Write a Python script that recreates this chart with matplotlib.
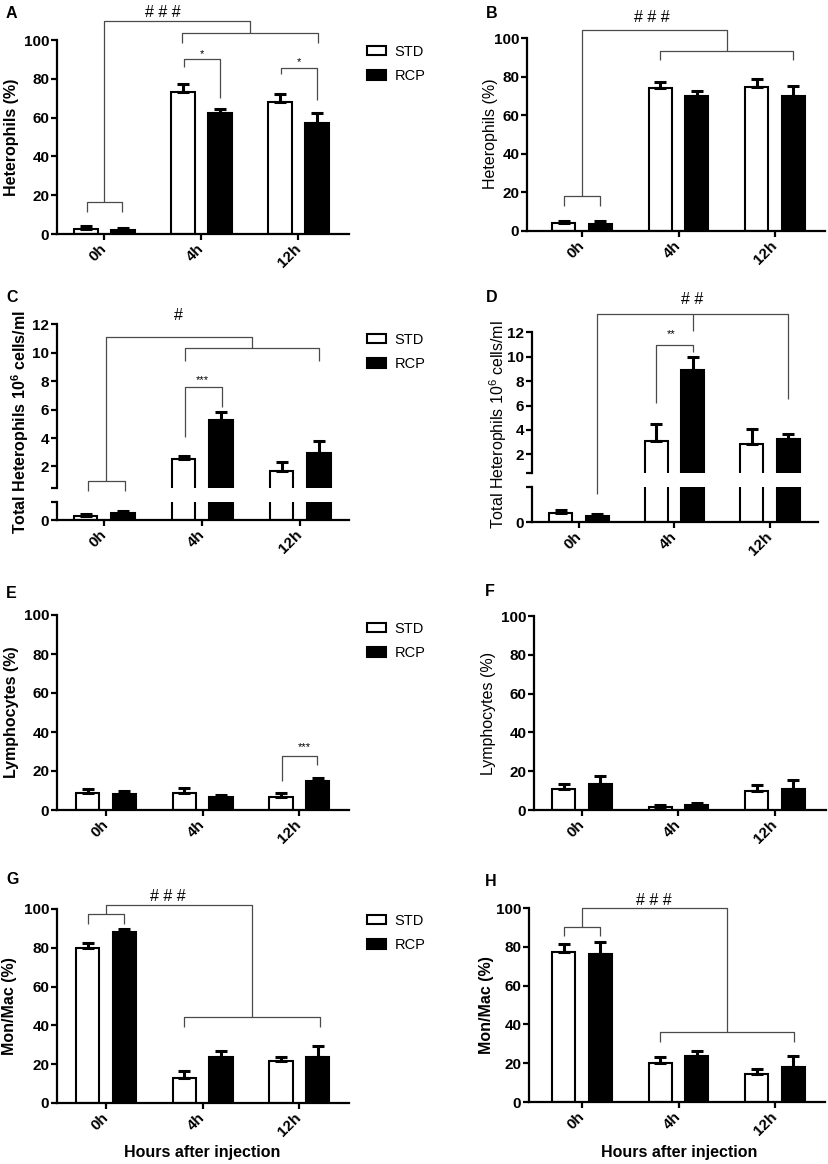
"""
Leukocyte counts after injection, STD vs RCP groups (panels A-H)
"""

import matplotlib

matplotlib.use("Agg")  # Non-interactive backend
import matplotlib.pyplot as plt
import numpy as np

plt.rcParams["font.family"] = ["Liberation Sans", "DejaVu Sans"]
plt.rcParams["mathtext.fontset"] = "custom"
plt.rcParams["mathtext.rm"] = "Liberation Sans"
plt.rcParams["mathtext.bf"] = "Liberation Sans:bold"

# ============================================
# Data (means and upper SEM)
# ============================================
times = ["0h", "4h", "12h"]
groups = ["STD", "RCP"]

a_std, a_std_err = [2.8, 73.2, 68.0], [1.2, 4.0, 4.2]
a_rcp, a_rcp_err = [2.0, 62.2, 57.0], [1.0, 2.2, 5.4]

b_std, b_std_err = [4.1, 74.3, 74.5], [1.2, 3.1, 4.1]
b_rcp, b_rcp_err = [3.8, 69.8, 70.1], [1.4, 2.9, 5.2]

c_std, c_std_err = [0.23, 2.54, 1.65], [0.11, 0.23, 0.65]
c_rcp, c_rcp_err = [0.38, 5.29, 2.98], [0.15, 0.51, 0.79]

d_std, d_std_err = [0.5, 3.09, 2.82], [0.19, 1.37, 1.25]
d_rcp, d_rcp_err = [0.33, 8.89, 3.28], [0.11, 1.09, 0.41]

e_std, e_std_err = [8.9, 8.9, 6.5], [1.7, 2.4, 2.4]
e_rcp, e_rcp_err = [8.2, 6.7, 15.0], [1.4, 1.0, 1.2]

f_std, f_std_err = [10.7, 1.7, 9.9], [2.7, 0.7, 3.2]
f_rcp, f_rcp_err = [13.2, 2.6, 10.7], [4.3, 1.2, 4.6]

g_std, g_std_err = [80.1, 13.1, 21.9], [2.6, 3.4, 2.0]
g_rcp, g_rcp_err = [88.0, 23.9, 23.6], [1.6, 2.7, 6.0]

h_std, h_std_err = [77.5, 20.3, 14.3], [3.9, 3.1, 2.7]
h_rcp, h_rcp_err = [76.3, 23.9, 18.2], [6.3, 2.6, 5.7]

# ============================================
# Layout helpers (pixel geometry of the original figure)
# ============================================
W, H = 829, 1164
fig = plt.figure(figsize=(W / 100, H / 100), dpi=100)

OFF = 0.19
BAR_W = 0.24
LINE = dict(color="#4a4a4a", lw=0.9, clip_on=False, solid_capstyle="butt")
TICK_FONT = dict(fontsize=11, fontweight="bold")


def px_axes(l, t, r, b):
    return fig.add_axes([l / W, 1 - b / H, (r - l) / W, (b - t) / H])


def style_axes(ax, x0, ppu, l, r, show_x=True):
    ax.set_xlim((l - x0) / ppu, (r - x0) / ppu)
    for s in ["top", "right"]:
        ax.spines[s].set_visible(False)
    ax.spines["left"].set_linewidth(1.6)
    ax.spines["bottom"].set_linewidth(1.6)
    ax.tick_params(axis="both", direction="out", length=4, width=1.6, pad=1.5)
    if show_x:
        ax.set_xticks(np.arange(len(times)))
        ax.set_xticklabels(times, rotation=45, ha="right", va="center",
                           rotation_mode="anchor", **TICK_FONT)
        ax.tick_params(axis="x", pad=5)
    else:
        ax.spines["bottom"].set_visible(False)
        ax.set_xticks([])
    for lab in ax.get_yticklabels():
        lab.set_fontweight("bold")
        lab.set_fontsize(11)


def draw_bars(ax, std, std_err, rcp, rcp_err, idx=(0, 1, 2)):
    idx = list(idx)
    x = np.arange(len(times))[idx]
    std, std_err = np.array(std)[idx], np.array(std_err)[idx]
    rcp, rcp_err = np.array(rcp)[idx], np.array(rcp_err)[idx]
    h1 = ax.bar(x - OFF, std, BAR_W, color="white", edgecolor="black",
                linewidth=1.5, label=groups[0], zorder=2)
    h2 = ax.bar(x + OFF, rcp, BAR_W, color="black", edgecolor="black",
                linewidth=1.5, label=groups[1], zorder=2)
    for xs, m, e in [(x - OFF, std, std_err), (x + OFF, rcp, rcp_err)]:
        ax.errorbar(xs, m, yerr=[np.zeros(len(m)), e], fmt="none",
                    ecolor="black", elinewidth=2.2, capsize=4.5,
                    capthick=2.2, zorder=3)
    return h1, h2


def pair_bracket(ax, xl, xr, y, yl, yr):
    ax.plot([xl, xl, xr, xr], [yl, y, y, yr], **LINE)


def group_bracket(ax, left, right, top, label, lx, ly):
    # left / right: (x_left, x_right, height, leg_end)
    pair_bracket(ax, left[0], left[1], left[2], left[3], left[3])
    pair_bracket(ax, right[0], right[1], right[2], right[3], right[3])
    xc_l = (left[0] + left[1]) / 2
    xc_r = (right[0] + right[1]) / 2
    ax.plot([xc_l, xc_l, xc_r, xc_r], [left[2], top, top, right[2]], **LINE)
    ax.text(lx, ly, label, ha="center", va="center", fontsize=11.5)


def star(ax, x, y, s):
    ax.text(x, y, s, ha="center", va="center", fontsize=8)


def ylabel(x, y, s, bold=True):
    fig.text(x / W, 1 - y / H, s, rotation=90, ha="center", va="center",
             fontsize=11.5, fontweight="bold" if bold else "normal")


def legend(handles, x, y):
    fig.legend(handles, groups, loc="upper left",
               bbox_to_anchor=(x / W, 1 - y / H), frameon=False,
               borderpad=0, borderaxespad=0, handlelength=1.3,
               handleheight=0.6, handletextpad=0.6, labelspacing=0.7,
               fontsize=10.5)


def panel_letter(x, y, s):
    fig.text(x / W, 1 - y / H, s, ha="left", va="center", fontsize=11.5,
             fontweight="bold")


def pct_axes(rect):
    ax = px_axes(*rect)
    ax.set_ylim(0, 100)
    ax.set_yticks(np.arange(0, 101, 20))
    return ax


# ============================================
# A: heterophils (%)
# ============================================
ax = pct_axes((57, 40, 349, 234))
hA = draw_bars(ax, a_std, a_std_err, a_rcp, a_rcp_err)
style_axes(ax, 104.5, 97, 57, 349)
group_bracket(ax, (-0.18, 0.18, 16.5, 11.3), (0.8, 2.2, 103.6, 98.5),
              109.8, "# # #", 0.6, 114.4)
pair_bracket(ax, 0.82, 1.19, 90.2, 86.1, 70.1)
star(ax, 1.0, 93.0, "*")
pair_bracket(ax, 1.82, 2.19, 85.6, 82.5, 69.1)
star(ax, 2.0, 88.4, "*")
legend(hA, 367, 45)
ylabel(12, 137, "Heterophils (%)")
panel_letter(6, 14, "A")

# ============================================
# B: heterophils (%)
# ============================================
ax = pct_axes((527, 38, 825, 231))
draw_bars(ax, b_std, b_std_err, b_rcp, b_rcp_err)
style_axes(ax, 582, 96.5, 527, 825)
group_bracket(ax, (-0.19, 0.19, 18.3, 13.1), (0.81, 2.19, 93.4, 88.6),
              104.0, "# # #", 0.72, 110.4)
ylabel(490, 134, "Heterophils (%)", bold=False)
panel_letter(486, 14, "B")

# ============================================
# C: total heterophils (broken axis)
# ============================================
ax_lo = px_axes(57, 502.3, 349, 520)
draw_bars(ax_lo, c_std, c_std_err, c_rcp, c_rcp_err)
ax_lo.set_ylim(0, 1)
ax_lo.set_yticks([0, 1])
ax_lo.set_yticklabels(["0", ""])
style_axes(ax_lo, 104.3, 98, 57, 349)
ax = px_axes(57, 324.3, 349, 487.8)
hC = draw_bars(ax, c_std, c_std_err, c_rcp, c_rcp_err, idx=(1, 2))
ax.set_ylim(0.5, 12)
ax.set_yticks([0.5, 2, 4, 6, 8, 10, 12])
ax.set_yticklabels(["", "2", "4", "6", "8", "10", "12"])
style_axes(ax, 104.3, 98, 57, 349, show_x=False)
group_bracket(ax, (-0.17, 0.21, 1.0, 0.29), (0.82, 2.19, 10.31, 9.42),
              11.13, "#", 0.76, 12.65)
pair_bracket(ax, 0.82, 1.2, 7.6, 4.1, 6.2)
star(ax, 1.0, 8.1, "***")
legend(hC, 367, 333)
ylabel(20, 422, r"Total Heterophils 10$^{\mathbf{6}}$ cells/ml")
panel_letter(6, 297, "C")

# ============================================
# D: total heterophils (broken axis)
# ============================================
ax_lo = px_axes(532, 486.7, 818, 522.3)
draw_bars(ax_lo, d_std, d_std_err, d_rcp, d_rcp_err)
ax_lo.set_ylim(0, 2)
ax_lo.set_yticks([0, 2])
ax_lo.set_yticklabels(["0", ""])
style_axes(ax_lo, 579, 95.5, 532, 818)
ax = px_axes(532, 332.3, 818, 472.6)
draw_bars(ax, d_std, d_std_err, d_rcp, d_rcp_err, idx=(1, 2))
ax.set_ylim(0.5, 12)
ax.set_yticks([0.5, 2, 4, 6, 8, 10, 12])
ax.set_yticklabels(["", "2", "4", "6", "8", "10", "12"])
style_axes(ax, 579, 95.5, 532, 818, show_x=False)
ax.plot([0.19, 0.19, 2.19, 2.19], [-1.28, 13.48, 13.48, 6.5], **LINE)
ax.plot([1.19, 1.19], [13.48, 12.1], **LINE)
pair_bracket(ax, 0.81, 1.19, 11.0, 6.2, 10.4)
star(ax, 0.97, 11.86, "**")
ax.text(1.18, 14.65, "# #", ha="center", va="center", fontsize=11.5)
ylabel(498, 425, r"Total Heterophils 10$^{6}$ cells/ml", bold=False)
panel_letter(486, 298, "D")

# ============================================
# E: lymphocytes (%)
# ============================================
ax = pct_axes((57, 615, 349, 810))
hE = draw_bars(ax, e_std, e_std_err, e_rcp, e_rcp_err)
style_axes(ax, 106, 96.7, 57, 349)
pair_bracket(ax, 1.82, 2.18, 27.7, 14.7, 22.9)
star(ax, 2.05, 32.5, "***")
legend(hE, 367, 622)
ylabel(12, 712, "Lymphocytes (%)")
panel_letter(6, 593, "E")

# ============================================
# F: lymphocytes (%)
# ============================================
ax = pct_axes((534, 616, 826, 810))
draw_bars(ax, f_std, f_std_err, f_rcp, f_rcp_err)
style_axes(ax, 582, 96.5, 534, 826)
ylabel(489, 713, "Lymphocytes (%)", bold=False)
panel_letter(485, 592, "F")

# ============================================
# G: monocytes / macrophages (%)
# ============================================
ax = pct_axes((57, 909, 349, 1103))
hG = draw_bars(ax, g_std, g_std_err, g_rcp, g_rcp_err)
style_axes(ax, 106, 96.7, 57, 349)
group_bracket(ax, (-0.19, 0.19, 97.3, 92.1), (0.81, 2.21, 44.5, 39.4),
              102.0, "# # #", 0.64, 106.3)
legend(hG, 367, 914)
ylabel(10, 1006, "Mon/Mac (%)")
panel_letter(6, 880, "G")
fig.text(202.5 / W, 1 - 1152.7 / H, "Hours after injection", ha="center",
         va="center", fontsize=11.5, fontweight="bold")

# ============================================
# H: monocytes / macrophages (%)
# ============================================
ax = pct_axes((529, 908, 825, 1102))
draw_bars(ax, h_std, h_std_err, h_rcp, h_rcp_err)
style_axes(ax, 582, 96.5, 529, 825)
group_bracket(ax, (-0.19, 0.19, 90.4, 85.6), (0.81, 2.2, 35.9, 31.1),
              99.8, "# # #", 0.74, 104.1)
ylabel(487, 1005, "Mon/Mac (%)")
panel_letter(485, 882, "H")
fig.text(679.5 / W, 1 - 1152.7 / H, "Hours after injection", ha="center",
         va="center", fontsize=11.5, fontweight="bold")

fig.savefig("out.png", dpi=100)
print("saved out.png")
